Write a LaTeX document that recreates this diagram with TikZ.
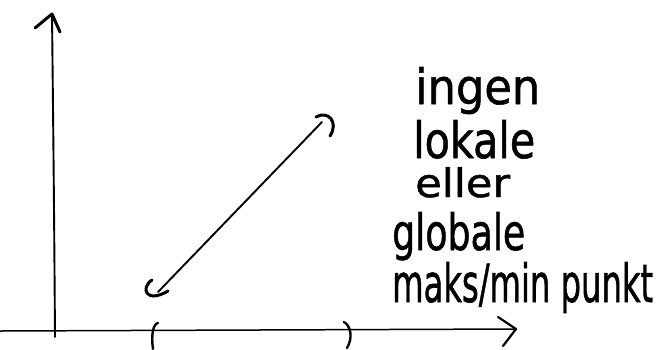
\documentclass[tikz,border=0pt]{standalone}
\usepackage{fontspec}
\usepackage{graphicx}
\newfontfamily\hand[FakeBold=1.2]{DejaVu Sans}
\begin{document}
\begin{tikzpicture}[x=1pt,y=-1pt,
  pen/.style={line width=1.9pt, line cap=round, line join=round},
  hook/.style={line width=3pt, line cap=round, line join=round},
  hw/.style={anchor=base west, inner sep=0pt, font=\hand\fontsize{40}{44}\selectfont}]
\useasboundingbox (0,0) rectangle (661,349);
% y axis
\coordinate (ybot) at (55,337);
\coordinate (ytop) at (52,14);
\draw[pen] (ybot) .. controls (54,200) .. (ytop);
\draw[hook] (35,28) -- (ytop) -- (60,32);
% x axis
\coordinate (xl) at (0,331);
\coordinate (xr) at (516,329);
\draw[pen,line width=1.5pt] (xl) -- (xr);
\draw[pen,line width=2.2pt] (498,317) -- (xr) -- (503,346);
% interval parentheses
\draw[hook,line width=2.4pt] (158,323) .. controls (153,324) and (151,335) .. (153,349);
\draw[hook,line width=2.4pt] (344,322) .. controls (351,326) and (353,338) .. (347,348);
% diagonal line with hooks
\coordinate (A) at (158,292);
\coordinate (B) at (322,122);
\draw[pen] (A) -- (B);
\draw[hook] (316,117) .. controls (328,110) and (339,122) .. (330,136);
\draw[hook] (152,280) .. controls (140,288) and (146,304) .. (168,291);
% text
\node[hw] (t1) at (415,104) {\resizebox{125pt}{37pt}{ingen}};
\node[hw] (t2) at (413,158) {\resizebox{122pt}{38pt}{lokale}};
\node[hw] (t3) at (415,197) {\resizebox{95pt}{30pt}{eller}};
\node[hw] (t4) at (392,250) {\resizebox{133pt}{38pt}{globale}};
\node[hw] (t5) at (392,302) {\resizebox{261pt}{40pt}{maks/min punkt}};
\end{tikzpicture}
\end{document}
